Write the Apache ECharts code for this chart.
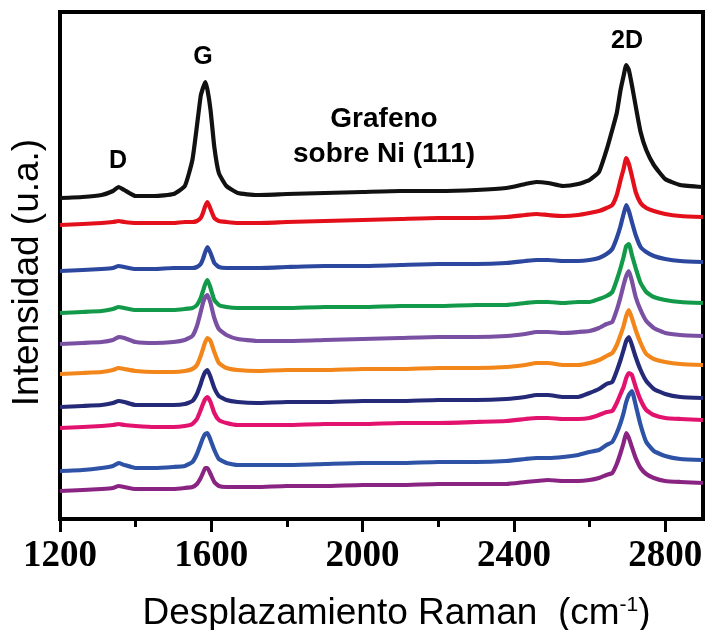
<!DOCTYPE html>
<html><head><meta charset="utf-8">
<script src="https://cdn.jsdelivr.net/npm/echarts@6/dist/echarts.min.js"></script>
<style>html,body{margin:0;padding:0;background:#fff}#c{width:707px;height:630px}</style>
</head><body><div id="c"></div>
<script>
// Raman shift (cm-1)
const wavenumbers = [1200,1260,1310,1340,1355,1370,1400,1450,1500,1530,1550,1562,1572,1578,1584,1590,1598,1608,1620,1640,1670,1720,1800,1900,2000,2100,2200,2300,2380,2430,2460,2490,2530,2570,2600,2625,2645,2660,2672,2682,2690,2697,2704,2712,2722,2735,2750,2770,2800,2840,2900];

// Intensities (arbitrary units, stacked/offset spectra, top to bottom)
const spec1 = [321,322,324,328,332,329,323,323,325,333,359,393,423,431,437,429,409,372,346,333,326,324,325,326,327,328,328,329,331,335,337,336,333,335,339,347,369,389,406,429,443,454,449,434,413,387,369,354,340,334,332];
const spec2 = [294,295,296,297,298,297,296,296,296,297,297,298,301,306,313,317,310,301,298,297,296,296,297,298,299,300,301,301,302,304,305,304,303,304,306,308,311,314,324,339,350,361,355,343,327,316,311,308,305,303,302];
const spec3 = [248,249,250,251,253,252,250,250,251,251,251,252,255,260,267,272,266,256,252,251,251,251,252,253,253,254,255,255,256,258,259,259,258,258,259,261,265,270,281,293,305,314,308,297,284,272,267,263,260,258,257];
const spec4 = [206,207,208,210,212,211,209,209,209,210,211,214,221,228,235,239,231,219,214,212,211,211,211,212,212,213,213,214,214,216,217,217,216,217,217,220,223,227,239,251,262,273,275,264,251,236,227,222,219,217,216];
const spec5 = [175,176,177,179,182,181,177,176,177,179,183,193,207,216,222,224,216,201,190,184,180,178,178,179,180,181,182,182,183,185,187,187,186,187,188,191,195,197,209,222,234,243,248,238,222,209,198,191,186,184,183];
const spec6 = [145,146,147,149,151,150,148,147,147,148,150,154,163,170,177,181,178,167,156,151,149,148,149,149,150,150,151,151,152,154,156,156,154,154,156,159,163,166,174,184,193,203,209,201,189,176,165,160,157,155,154];
const spec7 = [112,113,114,116,118,117,114,114,114,115,118,125,135,142,147,149,142,131,123,119,117,116,117,117,118,118,119,119,120,122,124,124,122,122,126,130,135,137,148,159,169,178,182,174,162,149,138,130,125,122,121];
const spec8 = [91,92,93,94,95,94,93,92,92,93,95,100,109,115,120,122,117,106,99,96,94,94,94,95,95,96,96,97,98,100,101,101,100,100,101,104,107,108,116,125,132,141,146,144,132,119,109,104,101,100,99];
const spec9 = [48,49,51,53,56,54,51,51,52,53,57,65,75,81,85,86,79,69,60,56,54,54,54,55,56,56,57,57,58,60,61,61,62,64,67,69,74,77,86,96,106,117,124,128,114,94,77,68,63,60,59];
const spec10 = [28,29,30,31,33,32,30,30,30,31,32,35,41,46,51,51,45,37,33,32,32,32,33,33,34,34,35,35,35,37,38,39,38,38,39,41,44,46,55,66,76,86,81,72,61,51,45,41,38,37,36];

const spectra = [spec1,spec2,spec3,spec4,spec5,spec6,spec7,spec8,spec9,spec10];
const colors = ['#111111','#e3101c','#2b479e','#12994a','#7a50a2','#f2861a','#242a78','#e2136f','#2d52a6','#8a2482'];

const xTickValues = [1200,1600,2000,2400,2800];
const xMinorTickValues = [1400,1800,2200,2600];

const chart = echarts.init(document.getElementById('c'), null, {renderer:'canvas'});

const series = spectra.map((s,i)=>({
  type:'line', name:'spectrum '+(i+1),
  data: wavenumbers.map((w,j)=>[w,s[j]]),
  showSymbol:false, smooth:0.15,
  lineStyle:{color:colors[i], width:4.2, join:'round'},
  z: 2
}));

const sansBold = {fontFamily:'Liberation Sans', fontWeight:'bold', fill:'#000'};

chart.setOption({
  animation:false,
  backgroundColor:'#fff',
  grid:{left:60,right:4,top:12,bottom:111,show:true,borderColor:'#000',borderWidth:4,containLabel:false,outerBoundsMode:'none'},
  xAxis:[{
    type:'value', min:1200, max:2900, interval:400,
    axisLine:{show:true,lineStyle:{color:'#000',width:4}},
    axisTick:{show:true,customValues:xTickValues,length:13,lineStyle:{color:'#000',width:3}},
    axisLabel:{customValues:xTickValues,formatter:(v)=>String(v),fontFamily:'Liberation Serif',fontWeight:'bold',fontSize:37,color:'#000',margin:19},
    splitLine:{show:false},
    name:'{n|Desplazamiento Raman  (cm}{s|-1}{n|)}',
    nameLocation:'middle', nameGap:76,
    nameTextStyle:{padding:[0,0,0,30],rich:{
      n:{fontFamily:'Liberation Sans',fontSize:37,color:'#000'},
      s:{fontFamily:'Liberation Sans',fontSize:21,color:'#000',verticalAlign:'top',padding:[0,0,14,0]}
    }}
  },{
    type:'value', min:1200, max:2900, gridIndex:0, position:'bottom',
    axisLine:{show:false},
    axisTick:{show:true,customValues:xMinorTickValues,length:8,lineStyle:{color:'#000',width:3}},
    axisLabel:{show:false}, splitLine:{show:false}
  }],
  yAxis:{
    type:'value', min:0, max:507,
    axisLine:{show:false}, axisTick:{show:false}, axisLabel:{show:false}, splitLine:{show:false},
    name:'Intensidad (u.a.)', nameLocation:'middle', nameGap:14,
    nameTextStyle:{fontFamily:'Liberation Sans',fontSize:37,color:'#000',padding:[0,14,0,0]}
  },
  series: series,
  graphic:[
    {type:'text',x:118,y:161,style:Object.assign({text:'D',fontSize:25,align:'center',verticalAlign:'middle'},sansBold)},
    {type:'text',x:203,y:57,style:Object.assign({text:'G',fontSize:25,align:'center',verticalAlign:'middle'},sansBold)},
    {type:'text',x:627,y:41,style:Object.assign({text:'2D',fontSize:25,align:'center',verticalAlign:'middle'},sansBold)},
    {type:'text',x:384,y:119,style:Object.assign({text:'Grafeno',fontSize:28,align:'center',verticalAlign:'middle'},sansBold)},
    {type:'text',x:384,y:154,style:Object.assign({text:'sobre Ni (111)',fontSize:28,align:'center',verticalAlign:'middle'},sansBold)}
  ]
});
</script></body></html>
